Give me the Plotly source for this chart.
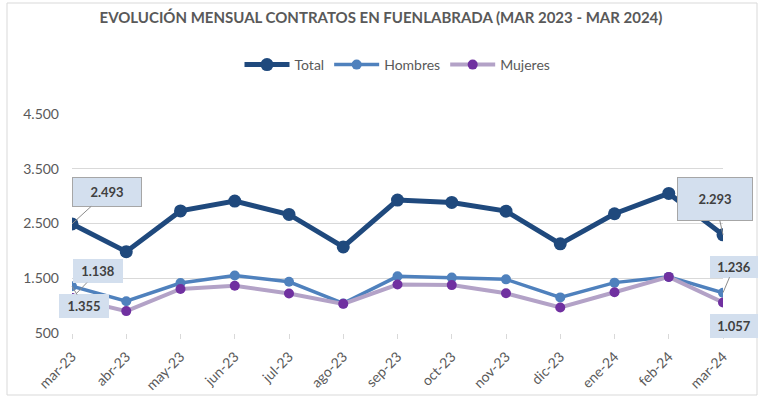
import plotly.graph_objects as go

months = ["mar-23", "abr-23", "may-23", "jun-23", "jul-23", "ago-23", "sep-23",
          "oct-23", "nov-23", "dic-23", "ene-24", "feb-24", "mar-24"]
total = [2493, 1986, 2730, 2910, 2665, 2072, 2927, 2885, 2726, 2128, 2678, 3050, 2293]
hombres = [1355, 1080, 1412, 1551, 1435, 1040, 1535, 1512, 1480, 1150, 1420, 1525, 1236]
mujeres = [1138, 900, 1305, 1362, 1220, 1032, 1385, 1375, 1225, 965, 1245, 1525, 1057]

FONT = "Lato"
GRAY = "#595959"
C_TOTAL = "#1F497D"
C_H = "#4F81BD"
C_M_LINE = "#B3A2C7"
C_M_MARK = "#7030A0"

fig = go.Figure()
fig.add_trace(go.Scatter(x=months, y=total, name="Total", mode="lines+markers",
                         line=dict(color=C_TOTAL, width=5),
                         marker=dict(color=C_TOTAL, size=13)))
fig.add_trace(go.Scatter(x=months, y=hombres, name="Hombres", mode="lines+markers",
                         line=dict(color=C_H, width=3.5),
                         marker=dict(color=C_H, size=10)))
fig.add_trace(go.Scatter(x=months, y=mujeres, name="Mujeres", mode="lines+markers",
                         line=dict(color=C_M_LINE, width=4),
                         marker=dict(color=C_M_MARK, size=10)))

def fmt(v):
    return f"{v:,}".replace(",", ".")

def label(xi, val, ax, ay, w, h, border=True):
    fig.add_annotation(
        x=months[xi], y=val, xref="x", yref="y", text="<b>" + fmt(val) + "</b>",
        showarrow=True, arrowhead=0, arrowwidth=1, arrowcolor="#8C8C8C",
        ax=ax, ay=ay, axref="pixel", ayref="pixel",
        bgcolor="#D3DFEE", bordercolor="#A6A6A6" if border else "#D3DFEE",
        borderwidth=1, borderpad=3, width=w, height=h,
        font=dict(family=FONT, size=13, color="#404040"))

label(0, total[0], 35, -32, 62, 22)
label(12, total[12], -8, -36, 68, 36)
label(0, mujeres[0], 26, -27, 42, 16, border=False)
label(0, hombres[0], 12, 20, 42, 16, border=False)
label(12, hombres[12], 11, -26, 40, 14, border=False)
label(12, mujeres[12], 11, 23, 40, 16, border=False)

L, R, T, B = 72, 42, 114, 68
PW, PH = 765 - L - R, 401 - T - B

def px(x):
    return (x - L) / PW

def py(y):
    return (401 - B - y) / PH

fig.add_shape(type="rect", xref="paper", yref="paper",
              x0=px(7), x1=px(757), y0=py(395), y1=py(3),
              line=dict(color="#D9D9D9", width=1), layer="below")

fig.update_layout(
    width=765, height=401,
    margin=dict(l=L, r=R, t=T, b=B),
    paper_bgcolor="white", plot_bgcolor="white",
    separators=",.",
    font=dict(family=FONT, color=GRAY),
    title=dict(text="<b>EVOLUCIÓN MENSUAL CONTRATOS EN FUENLABRADA (MAR 2023 - MAR 2024)</b>",
               x=381 / 765, xref="container", xanchor="center", y=1 - 18 / 401, yanchor="middle",
               font=dict(family=FONT, size=15, color=GRAY)),
    legend=dict(orientation="h", x=0.5, xanchor="center", y=py(65), yanchor="middle",
                font=dict(family=FONT, size=14, color=GRAY), itemwidth=45,
                bgcolor="rgba(0,0,0,0)"),
    showlegend=True,
    hovermode=False,
)
fig.update_xaxes(type="category", range=[0, 12], showgrid=False,
                 showline=False, ticks="outside", ticklen=5, tickcolor="#D9D9D9",
                 tickangle=-45, ticklabelstandoff=4, automargin=False,
                 tickfont=dict(family=FONT, size=14, color=GRAY),
                 zeroline=False)
fig.update_yaxes(range=[500, 4500], tick0=500, dtick=1000, tickformat=",d",
                 showgrid=True, gridcolor="#D9D9D9", gridwidth=1,
                 zeroline=False, showline=False, ticklabelstandoff=12, automargin=False,
                 tickfont=dict(family=FONT, size=14, color=GRAY))

fig.write_html("out.html", config={"displayModeBar": False},
               post_script="document.body.style.margin='0';")
